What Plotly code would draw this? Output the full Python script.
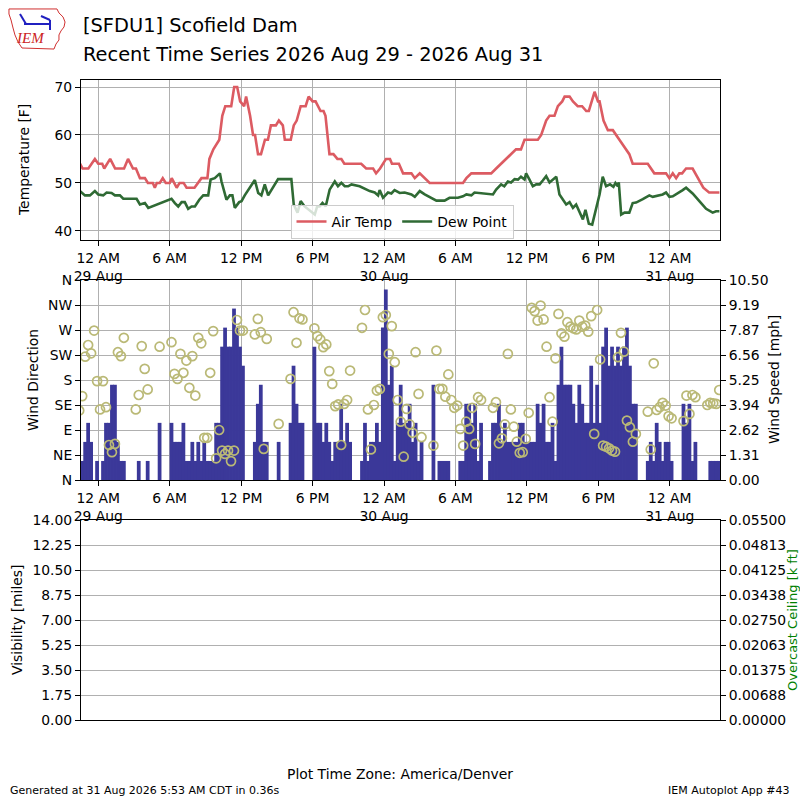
import pandas as pd
import plotly.graph_objects as go

# %% SFDU1 observations, local time (America/Denver)
air_times = [
    "08-28 22:28", "08-28 22:41", "08-28 23:10", "08-28 23:43",
    "08-29 00:00", "08-29 00:20", "08-29 00:30", "08-29 01:00", "08-29 01:25",
    "08-29 02:10", "08-29 02:30", "08-29 02:55", "08-29 03:10", "08-29 03:30",
    "08-29 03:55", "08-29 04:10", "08-29 04:35", "08-29 04:45", "08-29 04:55",
    "08-29 05:10", "08-29 05:25", "08-29 05:40", "08-29 06:00", "08-29 06:10",
    "08-29 06:35", "08-29 06:50", "08-29 07:10", "08-29 07:25", "08-29 08:05",
    "08-29 08:40", "08-29 09:10", "08-29 09:20", "08-29 09:40", "08-29 10:10",
    "08-29 10:25", "08-29 10:40", "08-29 11:10", "08-29 11:25", "08-29 11:40",
    "08-29 11:55", "08-29 12:15", "08-29 12:25", "08-29 12:45", "08-29 13:00",
    "08-29 13:10", "08-29 13:25", "08-29 13:40", "08-29 14:00", "08-29 14:15",
    "08-29 14:30", "08-29 14:55", "08-29 15:10", "08-29 15:30", "08-29 15:40",
    "08-29 16:10", "08-29 16:25", "08-29 16:40", "08-29 17:00", "08-29 17:25",
    "08-29 17:40", "08-29 18:00", "08-29 18:15", "08-29 18:40", "08-29 18:55",
    "08-29 19:05", "08-29 19:25", "08-29 19:45", "08-29 20:05", "08-29 20:25",
    "08-29 20:40", "08-29 22:05", "08-29 22:30", "08-29 23:05", "08-29 23:20",
    "08-29 23:40", "08-30 00:10", "08-30 00:30", "08-30 00:40", "08-30 01:15",
    "08-30 01:36", "08-30 02:18", "08-30 02:35", "08-30 03:00", "08-30 03:25",
    "08-30 03:50", "08-30 06:38", "08-30 06:55", "08-30 07:20", "08-30 09:00",
    "08-30 09:25", "08-30 09:50", "08-30 10:15", "08-30 10:40", "08-30 11:05",
    "08-30 11:30", "08-30 11:48", "08-30 12:55", "08-30 13:12", "08-30 13:37",
    "08-30 13:54", "08-30 14:19", "08-30 14:36", "08-30 14:58", "08-30 15:10",
    "08-30 15:35", "08-30 15:52", "08-30 16:16", "08-30 16:38", "08-30 16:59",
    "08-30 17:12", "08-30 17:41", "08-30 17:58", "08-30 18:06", "08-30 18:26",
    "08-30 18:48", "08-30 19:13", "08-30 19:46", "08-30 20:36", "08-30 20:53",
    "08-30 22:09", "08-30 22:42", "08-30 23:41", "08-30 23:58", "08-31 00:15",
    "08-31 00:32", "08-31 00:48", "08-31 01:02", "08-31 01:22", "08-31 01:55",
    "08-31 02:49", "08-31 03:18", "08-31 04:10",
]
air_temp = [
    54, 53, 53, 55,
    54, 54, 53, 55, 53, 53, 55, 53, 53, 51, 51, 50, 50, 49, 50, 50, 51, 50,
    50, 51, 49, 50, 50, 49, 49, 51, 51, 55, 57, 59, 64, 66, 66, 70, 70, 67,
    66, 68, 64, 60, 60, 56, 56, 59, 59, 62, 62, 63, 62, 59, 59, 62, 63, 66,
    66, 68, 67, 67, 65, 65, 64, 56, 56, 55, 55, 54, 54, 53, 53, 52, 53,
    55, 55, 54, 54, 52, 52, 51, 52, 51, 50, 50, 51, 52, 52, 53, 54, 55, 56,
    57, 57, 59, 59, 60, 63, 64, 64, 66, 67, 68, 68, 67, 66, 66, 65, 65, 69,
    67, 67, 63, 61, 61, 59, 56, 54, 54, 52, 52, 51, 52, 51, 52, 52, 53, 53,
    49, 48, 48,
]

dew_times = [
    "08-28 22:28", "08-28 22:53", "08-28 23:18", "08-28 23:43",
    "08-29 00:00", "08-29 00:25", "08-29 00:42", "08-29 01:07", "08-29 01:24",
    "08-29 01:49", "08-29 02:06", "08-29 03:13", "08-29 03:30", "08-29 03:55",
    "08-29 04:12", "08-29 06:09", "08-29 06:26", "08-29 06:43", "08-29 07:00",
    "08-29 07:16", "08-29 07:33", "08-29 07:50", "08-29 08:07", "08-29 08:29",
    "08-29 08:49", "08-29 09:14", "08-29 09:26", "08-29 09:47", "08-29 10:13",
    "08-29 10:21", "08-29 10:46", "08-29 11:03", "08-29 11:16", "08-29 11:28",
    "08-29 11:50", "08-29 12:02", "08-29 12:18", "08-29 13:09", "08-29 13:26",
    "08-29 13:42", "08-29 13:59", "08-29 14:16", "08-29 15:06", "08-29 16:13",
    "08-29 16:25", "08-29 16:44", "08-29 17:00", "08-29 17:20", "08-29 18:11",
    "08-29 18:23", "08-29 18:36", "08-29 18:50", "08-29 19:06", "08-29 19:26",
    "08-29 19:52", "08-29 20:08", "08-29 20:25", "08-29 20:42", "08-29 20:59",
    "08-29 21:16", "08-29 21:57", "08-29 22:48", "08-29 23:13", "08-29 23:30",
    "08-29 23:38", "08-29 23:55", "08-30 00:20", "08-30 00:37", "08-30 00:53",
    "08-30 01:19", "08-30 01:44", "08-30 02:18", "08-30 02:35", "08-30 03:00",
    "08-30 03:25", "08-30 03:50", "08-30 04:24", "08-30 05:05", "08-30 05:30",
    "08-30 06:12", "08-30 06:38", "08-30 06:55", "08-30 07:20", "08-30 07:36",
    "08-30 08:02", "08-30 09:09", "08-30 09:25", "08-30 09:50", "08-30 10:06",
    "08-30 10:24", "08-30 10:40", "08-30 10:58", "08-30 11:15", "08-30 11:30",
    "08-30 11:48", "08-30 11:56", "08-30 12:13", "08-30 12:30", "08-30 12:47",
    "08-30 13:04", "08-30 13:20", "08-30 13:37", "08-30 13:54", "08-30 14:14",
    "08-30 14:28", "08-30 14:44", "08-30 15:01", "08-30 15:18", "08-30 15:35",
    "08-30 15:52", "08-30 16:08", "08-30 16:25", "08-30 16:42", "08-30 16:55",
    "08-30 17:12", "08-30 17:29", "08-30 18:06", "08-30 18:22", "08-30 18:39",
    "08-30 18:59", "08-30 19:16", "08-30 19:26", "08-30 19:38", "08-30 19:43",
    "08-30 19:55", "08-30 20:12", "08-30 20:36", "08-30 20:53", "08-30 21:10",
    "08-30 21:44", "08-30 22:17", "08-30 22:34", "08-30 22:59", "08-30 23:24",
    "08-30 23:41", "08-30 23:58", "08-31 00:15", "08-31 00:40", "08-31 01:05",
    "08-31 01:22", "08-31 01:55", "08-31 02:29", "08-31 03:03", "08-31 03:36",
    "08-31 03:53", "08-31 04:10",
]
dew_point = [
    48.3, 47.4, 47.4, 48.3,
    47.6, 47.4, 48.0, 47.9, 47.4, 47.4, 46.7, 46.7, 45.5, 45.8, 44.8, 46.7,
    45.8, 45.1, 46.0, 46.0, 44.6, 45.1, 45.1, 46.5, 47.4, 47.4, 50.7, 51.0,
    52.0, 50.3, 46.5, 47.4, 47.4, 44.8, 46.0, 46.2, 47.4, 50.6, 47.9, 47.4,
    49.7, 47.4, 50.8, 50.8, 45.5, 43.8, 46.2, 45.1, 43.4, 45.1, 45.1, 45.8,
    45.1, 48.6, 50.3, 49.3, 50.0, 49.3, 49.3, 49.7, 49.3, 48.3, 48.0, 47.4,
    48.5, 46.9,
    48.0, 47.8, 48.5, 47.9, 48.0, 47.6, 47.1, 48.3, 47.6, 47.1, 46.3, 46.3,
    46.9, 46.9, 47.2, 47.6, 47.4, 48.0, 47.9, 47.6, 48.6, 49.7, 49.3, 50.3,
    50.1, 50.8, 50.7, 51.3, 50.7, 52.0, 50.7, 49.3, 49.7, 49.7, 50.5, 51.4,
    50.1, 50.7, 51.3, 47.6, 46.5, 45.5, 46.0, 44.8, 45.5, 43.8, 42.4, 44.4,
    41.5, 41.3, 47.6, 51.3, 49.3, 49.7, 49.2, 50.0, 49.3, 50.1, 43.4, 43.8,
    43.8, 45.8, 45.9, 46.6, 47.4, 47.1, 47.4, 47.6, 48.0, 47.1,
    47.2, 47.8, 48.5, 49.0, 47.8, 46.2, 44.6, 43.8, 44.1, 44.1,
]

# wind every 15 minutes starting 28 Aug 22:24
wind_start = "2026-08-28 22:24"
wind_speed = [
    0, 1, 2, 3, 2, 0, 1, 0, 1, 3, 3, 5,
    5, 2, 1, 1, 0, 0, 0, 0, 1, 0, 0, 1,
    0, 0, 0, 3, 0, 0, 0, 3, 2, 2, 2, 3,
    1, 1, 2, 1, 2, 1, 2, 1, 1, 1, 3, 3,
    7, 8, 7, 7, 9, 8, 7, 6, 0, 0, 0, 2,
    4, 5, 2, 2, 0, 0, 0, 2, 0, 0, 0, 3,
    6, 4, 3, 3, 0, 0, 0, 7, 3, 3, 2, 3,
    2, 1, 2, 2, 4, 2, 3, 2, 0, 0, 0, 1,
    3, 1, 2, 2, 3, 2, 8, 10, 5, 6, 1, 3,
    5, 3, 3, 4, 2, 3, 1, 2, 0, 0, 0, 5,
    0, 1, 1, 1, 1, 0, 0, 0, 1, 1, 4, 4,
    3, 4, 1, 3, 0, 0, 1, 3, 3, 4, 2, 3,
    2, 2, 2, 2, 3, 3, 2, 2, 2, 2, 4, 3,
    4, 2, 2, 3, 1, 5, 7, 5, 5, 5, 4, 3,
    5, 4, 3, 3, 6, 3, 5, 3, 7, 8, 6, 7,
    6, 7, 6, 7, 8, 6, 4, 4, 0, 0, 0, 1,
    2, 1, 3, 2, 1, 2, 2, 1, 0, 0, 0, 4,
    3, 4, 1, 2, 0, 0, 0, 0, 1, 1, 1, 1,
]
wind_dir = [
    125, 151, 222, 243, 228, 269, 178, 127, 178, 131, 63, 50,
    65, 230, 223, 256, None, None, None, 127, 153, 241, 200, 163,
    None, None, None, 240, None, None, None, 248, 191, 182, 227, 193,
    215, 166, 223, 152, 256, 246, 76, 76, 193, 268, 39, 90,
    53, 47, 53, 34, 53, 288, 269, 269, None, None, None, 262,
    290, 266, 56, 254, None, None, None, 101, None, None, None, 182,
    302, 247, 291, 289, None, None, None, 273, 259, 253, 239, 244,
    196, 173, 133, 136, 63, 137, 144, 197, None, None, None, 274,
    306, 127, 55, 135, 161, 164, 293, 297, 227, 277, 212, 144,
    105, 42, 128, 100, 85, 230, 155, 77, None, None, None, 62,
    233, 164, 164, 150, 190, 144, 130, 134, 92, 62, 105, 92,
    130, 65, 149, 144, None, None, None, 130, 140, 66, 75, 100,
    227, 127, 96, 69, 49, 50, 74, 121, 310, 304, 287, 314,
    289, 240, 149, 105, 219, 299, 264, 258, 284, 276, 273, 271,
    287, 276, 278, 267, 295, 83, 306, 217, 62, 60, 57, 53,
    51, 221, 265, 231, 107, 95, 69, 83, None, None, None, 123,
    55, 210, 126, 131, 139, 134, 115, 111, None, None, None, 106,
    152, 119, 153, 149, None, None, None, 135, 139, 138, 137, 162,
]

tick_times = [
    "2026-08-29 00:00", "2026-08-29 06:00", "2026-08-29 12:00", "2026-08-29 18:00",
    "2026-08-30 00:00", "2026-08-30 06:00", "2026-08-30 12:00", "2026-08-30 18:00",
    "2026-08-31 00:00",
]
tick_text = [
    "12 AM<br>29 Aug", "6 AM", "12 PM", "6 PM",
    "12 AM<br>30 Aug", "6 AM", "12 PM", "6 PM",
    "12 AM<br>31 Aug",
]
temp_ticks = [40, 50, 60, 70]
dir_ticks = [0, 45, 90, 135, 180, 225, 270, 315, 360]
dir_labels = ["N", "NE", "E", "SE", "S", "SW", "W", "NW", "N"]
speed_ticks = [0, 1.3125, 2.625, 3.9375, 5.25, 6.5625, 7.875, 9.1875, 10.5]
speed_labels = ["0.00", "1.31", "2.62", "3.94", "5.25", "6.56", "7.87", "9.19", "10.50"]
vis_ticks = [0, 1.75, 3.5, 5.25, 7, 8.75, 10.5, 12.25, 14]
vis_labels = ["0.00", "1.75", "3.50", "5.25", "7.00", "8.75", "10.50", "12.25", "14.00"]
ceil_ticks = [0, 0.006875, 0.01375, 0.020625, 0.0275, 0.034375, 0.04125, 0.048125, 0.055]
ceil_labels = ["0.00000", "0.00688", "0.01375", "0.02063", "0.02750",
               "0.03438", "0.04125", "0.04813", "0.05500"]


# %%
air_dt = pd.to_datetime(["2026-" + t for t in air_times])
dew_dt = pd.to_datetime(["2026-" + t for t in dew_times])
wind_dt = pd.date_range(wind_start, periods=len(wind_speed), freq="15min")

W, H = 800, 800


def px(x, y):
    # pixel position -> paper coords
    return x / W, 1 - y / H


FONT = "DejaVu Sans"
tick_font = dict(family=FONT, size=13.9, color="black")
x_range = ["2026-08-28 22:33", "2026-08-31 04:13"]

fig = go.Figure()

fig.add_trace(go.Scatter(
    x=air_dt, y=air_temp, name="Air Temp", mode="lines",
    line=dict(color="#dc5b62", width=2.6), xaxis="x", yaxis="y",
))
fig.add_trace(go.Scatter(
    x=dew_dt, y=dew_point, name="Dew Point", mode="lines",
    line=dict(color="#2f6a34", width=2.6), xaxis="x", yaxis="y",
))
# bars wider than the 15 min step so neighbours join without seams
fig.add_trace(go.Bar(
    x=wind_dt, y=wind_speed, width=19 * 60 * 1000,
    marker=dict(color="#3b3899", line_width=0),
    xaxis="x2", yaxis="y2", showlegend=False,
))
fig.add_trace(go.Scatter(
    x=wind_dt, y=wind_dir, mode="markers",
    marker=dict(symbol="circle-open", size=9, color="#bab976", line=dict(width=1.7)),
    xaxis="x2", yaxis="y4", showlegend=False,
))
# no visibility / ceiling reports in this window
fig.add_trace(go.Scatter(x=[], y=[], xaxis="x3", yaxis="y3", showlegend=False))
fig.add_trace(go.Scatter(x=[], y=[], xaxis="x3", yaxis="y5", showlegend=False))

xdom = [81 / W, 720 / W]
xcommon = dict(
    domain=xdom, range=x_range, tickvals=tick_times, ticktext=tick_text,
    ticks="outside", ticklen=5, tickcolor="black", showline=True,
    linecolor="black", linewidth=1, mirror=True, showgrid=True,
    gridcolor="#b0b0b0", gridwidth=1, tickfont=tick_font, zeroline=False,
    automargin=False,
)
ycommon = dict(
    ticks="outside", ticklen=5, tickcolor="black", showline=True,
    linecolor="black", linewidth=1, tickfont=tick_font, zeroline=False,
    automargin=False,
)

fig.update_layout(
    width=W, height=H,
    margin=dict(l=0, r=0, t=0, b=0, autoexpand=False),
    paper_bgcolor="white", plot_bgcolor="white",
    font=dict(family=FONT, color="black"),
    xaxis=dict(anchor="y", **xcommon),
    xaxis2=dict(anchor="y2", matches="x", **xcommon),
    xaxis3=dict(anchor="y3", matches="x", **xcommon),
    yaxis=dict(domain=[1 - 240 / H, 1 - 80 / H], range=[38.1, 71.46],
               tickvals=temp_ticks, showgrid=True, gridcolor="#b0b0b0",
               mirror=True, **ycommon),
    yaxis2=dict(domain=[1 - 480 / H, 1 - 280 / H], anchor="x2", side="right",
                range=[0, 10.5], tickvals=speed_ticks, ticktext=speed_labels,
                showgrid=True, gridcolor="#b0b0b0", mirror=True, **ycommon),
    yaxis4=dict(overlaying="y2", anchor="x2", side="left", range=[0, 360],
                tickvals=dir_ticks, ticktext=dir_labels, showgrid=False, **ycommon),
    yaxis3=dict(domain=[1 - 720 / H, 1 - 520 / H], anchor="x3", range=[0, 14],
                tickvals=vis_ticks, ticktext=vis_labels, showgrid=True,
                gridcolor="#b0b0b0", mirror=True, **ycommon),
    yaxis5=dict(overlaying="y3", anchor="x3", side="right", range=[0, 0.055],
                tickvals=ceil_ticks, ticktext=ceil_labels, showgrid=False, **ycommon),
    legend=dict(
        orientation="h", x=402 / W, xanchor="center", y=1 - 205 / H, yanchor="top",
        bgcolor="rgba(255,255,255,0.8)", bordercolor="#cccccc", borderwidth=1,
        font=dict(family=FONT, size=13.9), itemwidth=30,
    ),
)

ann = []


def text(x, y, s, size=13.9, angle=0, xanchor="center", color="black", **kw):
    ax, ay = px(x, y)
    ann.append(dict(
        x=ax, y=ay, xref="paper", yref="paper", text=s, showarrow=False,
        textangle=angle, xanchor=xanchor, yanchor="middle",
        font=dict(family=kw.get("family", FONT), size=size, color=color,
                  style=kw.get("style", "normal")),
    ))


text(81, 26, "[SFDU1] Scofield Dam", size=19.4, xanchor="left")
text(81, 55, "Recent Time Series 2026 Aug 29 - 2026 Aug 31", size=19.4, xanchor="left")
text(24, 160, "Temperature [F]", angle=-90)
text(33, 380, "Wind Direction", angle=-90)
text(774, 380, "Wind Speed [mph]", angle=-90)
text(17, 620, "Visibility [miles]", angle=-90)
text(792, 620, "Overcast Ceiling [k ft]", size=13, angle=-90, color="green")
text(400, 774, "Plot Time Zone: America/Denver")
text(8, 790, "Generated at 31 Aug 2026 5:53 AM CDT in 0.36s", size=11, xanchor="left")
text(792, 790, "IEM Autoplot App #43", size=11, xanchor="right")
text(30, 38, "IEM", size=15, color="#cc2222", family="Liberation Serif", style="italic")
fig.update_layout(annotations=ann)

# rough IEM logo: state outline and a station glyph
outline = [(9, 9), (57, 9), (59, 13), (63, 17), (65, 22), (64, 27), (61, 31),
           (59, 35), (59, 40), (56, 44), (54, 49), (22, 48), (18, 42), (15, 35),
           (13, 28), (11, 20), (9, 14)]
pts = [px(x, y) for x, y in outline]
path = "M " + " L ".join(f"{a:.4f},{b:.4f}" for a, b in pts) + " Z"
shapes = [dict(type="path", path=path, xref="paper", yref="paper",
               line=dict(color="#d03030", width=1))]
for (x0, y0, x1, y1) in [(24, 24, 50, 24), (20, 14, 26, 24), (41, 16, 50, 20), (50, 20, 50, 30)]:
    a0, b0 = px(x0, y0)
    a1, b1 = px(x1, y1)
    shapes.append(dict(type="line", x0=a0, y0=b0, x1=a1, y1=b1, xref="paper",
                       yref="paper", line=dict(color="#2020c0", width=2)))
fig.update_layout(shapes=shapes)

# the page's default 8px body margin would push the 800x800 figure off-screen
fig.write_html(
    "out.html",
    config={"displayModeBar": False},
    post_script="document.body.style.margin='0';",
)
